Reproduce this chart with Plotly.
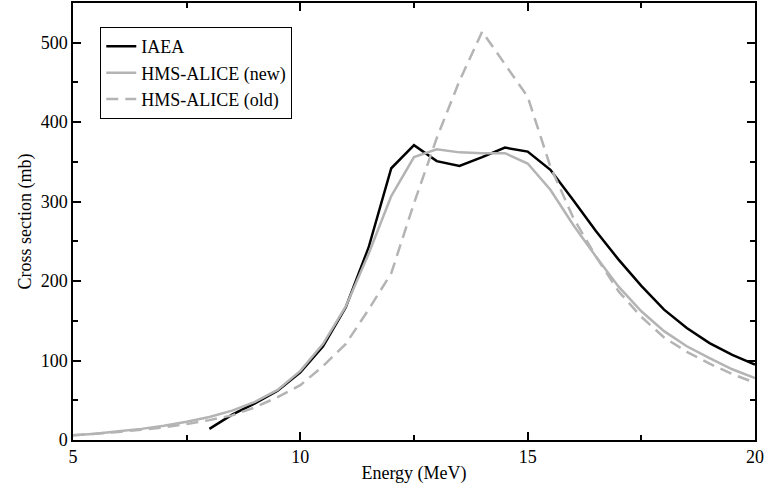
import plotly.graph_objects as go

energy_iaea = [8.0, 8.5, 9.0, 9.5, 10.0, 10.5, 11.0, 11.5, 12.0, 12.5, 13.0, 13.5, 14.0, 14.5,
               15.0, 15.5, 16.0, 16.5, 17.0, 17.5, 18.0, 18.5, 19.0, 19.5, 20.0]
sigma_iaea = [14, 32, 46, 62, 85, 118, 167, 242, 342, 371, 351, 345, 356, 368,
              363, 340, 302, 263, 227, 194, 164, 141, 122, 107, 95]

energy_hms = [5.0, 5.5, 6.0, 6.5, 7.0, 7.5, 8.0, 8.5, 9.0, 9.5, 10.0, 10.5, 11.0, 11.5, 12.0,
              12.5, 13.0, 13.5, 14.0, 14.5, 15.0, 15.5, 16.0, 16.5, 17.0, 17.5, 18.0, 18.5,
              19.0, 19.5, 20.0]
sigma_new = [6, 8, 11, 14, 18, 23, 29, 37, 48, 63, 87, 121, 168, 234, 307,
             356, 366, 362, 361, 361, 348, 315, 271, 231, 193, 162, 137, 118,
             103, 89, 78]
sigma_old = [6, 8, 10, 13, 16, 20, 25, 31, 41, 54, 69, 93, 121, 164, 210,
             298, 380, 452, 514, 473, 432, 344, 280, 231, 187, 155, 129, 111,
             96, 83, 72]

FAMILY = "Liberation Serif"
FSIZE = 18

fig = go.Figure()
fig.add_trace(go.Scatter(x=energy_iaea, y=sigma_iaea, mode="lines", name="IAEA",
                         line=dict(color="black", width=2.5)))
fig.add_trace(go.Scatter(x=energy_hms, y=sigma_new, mode="lines", name="HMS-ALICE (new)",
                         line=dict(color="#b4b4b4", width=2.5)))
fig.add_trace(go.Scatter(x=energy_hms, y=sigma_old, mode="lines", name="HMS-ALICE (old)",
                         line=dict(color="#b4b4b4", width=2.5, dash="12px,7px")))

fig.update_layout(
    template="none",
    width=766, height=488,
    margin=dict(l=73, r=11, t=3, b=48),
    plot_bgcolor="white", paper_bgcolor="white",
    font_family=FAMILY, font_size=FSIZE, font_color="black",
    showlegend=True,
    legend=dict(x=0.04, y=0.945, xanchor="left", yanchor="top",
                bordercolor="black", borderwidth=1, bgcolor="white",
                font_family=FAMILY, font_size=FSIZE, font_color="black",
                itemwidth=30, tracegroupgap=0),
    xaxis=dict(range=[5, 20], tickvals=[5, 10, 15, 20],
               showline=True, linecolor="black", linewidth=1.5, mirror="ticks",
               ticks="inside", ticklen=8, tickwidth=1.5, tickcolor="black",
               showgrid=False, zeroline=False,
               tickfont_family=FAMILY, tickfont_size=FSIZE, tickfont_color="black",
               minor=dict(tickvals=[7.5, 12.5, 17.5], ticks="inside", ticklen=5,
                          tickwidth=1.5, tickcolor="black", showgrid=False),
               title=dict(text="Energy (MeV)", standoff=0,
                          font_family=FAMILY, font_size=FSIZE, font_color="black")),
    yaxis=dict(range=[0, 550], tickvals=[0, 100, 200, 300, 400, 500],
               showline=True, linecolor="black", linewidth=1.5, mirror="ticks",
               ticks="inside", ticklen=8, tickwidth=1.5, tickcolor="black",
               showgrid=False, zeroline=False,
               tickfont_family=FAMILY, tickfont_size=FSIZE, tickfont_color="black",
               minor=dict(tickvals=[50, 150, 250, 350, 450], ticks="inside", ticklen=5,
                          tickwidth=1.5, tickcolor="black", showgrid=False),
               title=dict(text="Cross section (mb)", standoff=4,
                          font_family=FAMILY, font_size=FSIZE, font_color="black")),
)

fig.write_html("out.html")
